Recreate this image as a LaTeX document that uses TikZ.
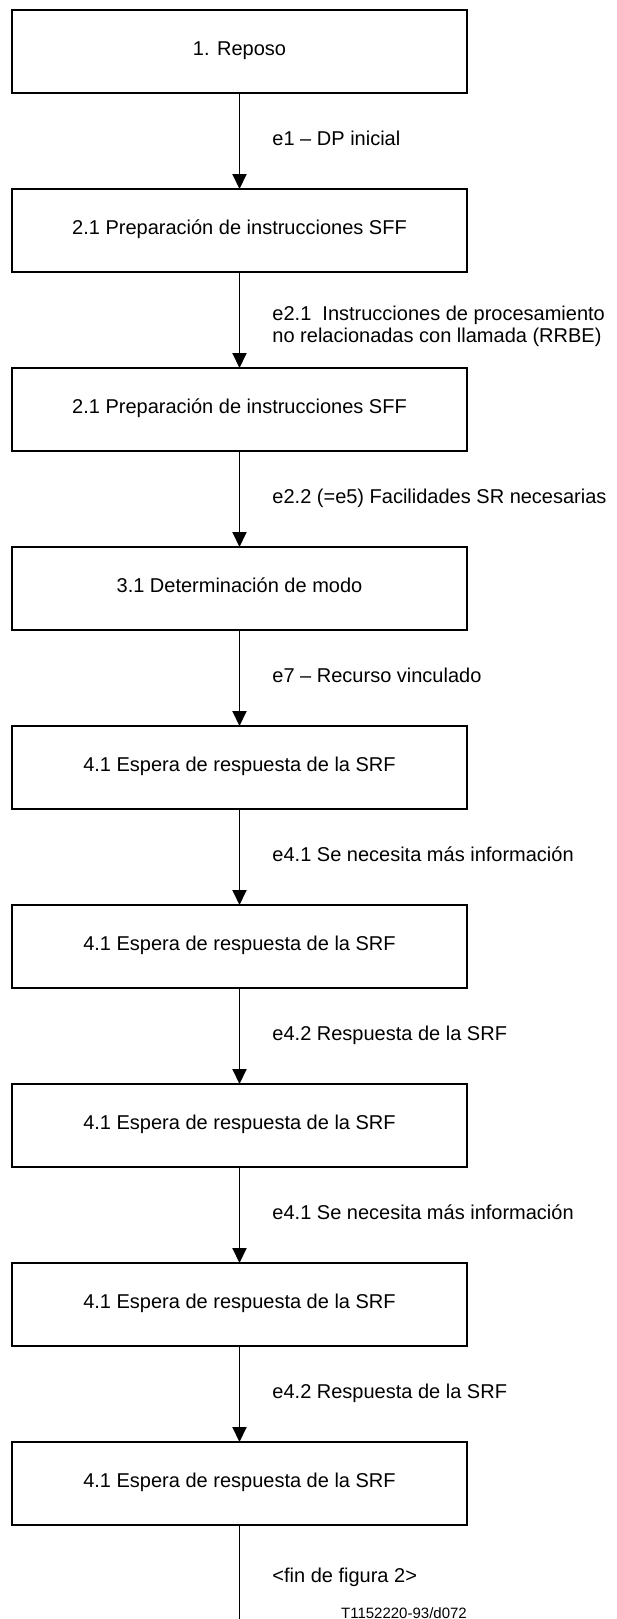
\documentclass[tikz,border=0pt]{standalone}
\usepackage{fontspec}
\setmainfont{Liberation Sans}
\usetikzlibrary{arrows.meta,positioning}

\begin{document}
\begin{tikzpicture}[x=1pt,y=1pt]

\tikzset{
    statebox/.style = {draw, line width=1.4pt, minimum width=455pt, minimum height=83pt,
        inner sep=0pt, outer sep=0pt, text height=14pt, text depth=6pt,
        font=\fontsize{20}{22}\selectfont},
    flow/.style = {line width=1.9pt, -{Triangle[length=15pt,width=14pt]}},
    lbl/.style = {anchor=base west, xshift=32pt, yshift=-4pt, inner sep=0pt,
        font=\fontsize{20}{22}\selectfont},
    node distance = 96pt
}

\useasboundingbox (0,0) rectangle (617,-1619);

% estados
\node[statebox] (s1) at (239.5,-51.5) {1. Reposo};
\node[statebox, below=of s1] (s2) {2.1 Preparación de instrucciones SFF};
\node[statebox, below=of s2] (s3) {2.1 Preparación de instrucciones SFF};
\node[statebox, below=of s3] (s4) {3.1 Determinación de modo};
\node[statebox, below=of s4] (s5) {4.1 Espera de respuesta de la SRF};
\node[statebox, below=of s5] (s6) {4.1 Espera de respuesta de la SRF};
\node[statebox, below=of s6] (s7) {4.1 Espera de respuesta de la SRF};
\node[statebox, below=of s7] (s8) {4.1 Espera de respuesta de la SRF};
\node[statebox, below=of s8] (s9) {4.1 Espera de respuesta de la SRF};
\coordinate (tail) at (239.5,-1619);

% transiciones
\draw[flow] (s1) -- node[lbl] {e1 -- DP inicial} (s2);
\draw[flow] (s2) -- node[lbl, anchor=west, yshift=-2pt, align=left]
    {e2.1\ \ Instrucciones de procesamiento\\no relacionadas con llamada (RRBE)} (s3);
\draw[flow] (s3) -- node[lbl] {e2.2 (=e5) Facilidades SR necesarias} (s4);
\draw[flow] (s4) -- node[lbl] {e7 -- Recurso vinculado} (s5);
\draw[flow] (s5) -- node[lbl] {e4.1 Se necesita más información} (s6);
\draw[flow] (s6) -- node[lbl] {e4.2 Respuesta de la SRF} (s7);
\draw[flow] (s7) -- node[lbl] {e4.1 Se necesita más información} (s8);
\draw[flow] (s8) -- node[lbl] {e4.2 Respuesta de la SRF} (s9);
\draw[line width=1.9pt] (s9) -- node[lbl, yshift=-6pt] {<fin de figura 2>} (tail);

\node[anchor=base east, inner sep=0pt, yshift=1pt, font=\fontsize{15}{17}\selectfont]
    (code) at (s9.east |- tail) {T1152220-93/d072};

\end{tikzpicture}
\end{document}
